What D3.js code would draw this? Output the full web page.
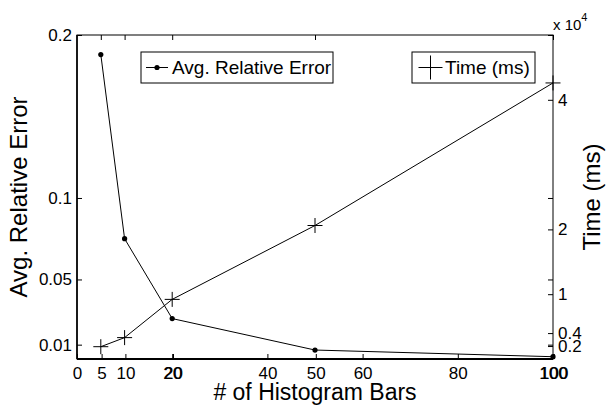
<!DOCTYPE html>
<html>
<head>
<meta charset="utf-8">
<script src="https://cdn.jsdelivr.net/npm/d3@7"></script>
<style>
  body { margin: 0; background: #fff; }
  text { font-family: "Liberation Sans", Arial, sans-serif; fill: #000; }
</style>
</head>
<body>
<div id="chart"></div>
<script>
// data
let bars = [5, 10, 20, 50, 100];
let relError = [0.188, 0.075, 0.026, 0.0067, 0.0026];
let timeMs = [1900, 3300, 9200, 20600, 42600];

// tick values
let xTicksMain = [0, 20, 40, 60, 80, 100];
let xTicksData = [5, 10, 20, 50, 100];
let leftTicks = [0.01, 0.05, 0.1, 0.2];
let rightTicks = [2000, 4000, 10000, 20000, 40000];

let width = 608, height = 405;
let pLeft = 77, pRight = 553, pTop = 35, pBottom = 359;

let svg = d3.select("#chart").append("svg")
  .attr("width", width)
  .attr("height", height);

let x = d3.scaleLinear().domain([0, 100]).range([pLeft, pRight]);
let yL = d3.scaleLinear().domain([0.0012, 0.2]).range([pBottom, pTop]);
let yR = d3.scaleLinear().domain([0, 50000]).range([pBottom, pTop]);

let tickLen = 5;
let tickFont = "17px";

// bottom axis: two overlapped sets of labels like plotyy
function bottomAxis(ticks, dx) {
  let g = svg.append("g").attr("transform", "translate(" + dx + "," + pBottom + ")");
  g.call(d3.axisBottom(x).tickValues(ticks).tickSizeInner(-tickLen).tickSizeOuter(0).tickPadding(7.5).tickFormat(d3.format("d")));
  g.select(".domain").remove();
  g.selectAll("text").style("font-size", tickFont).attr("fill", "#000");
  g.selectAll("line").attr("stroke", "#000");
}
bottomAxis(xTicksMain, 0);
bottomAxis(xTicksData, 0.8);

// top mirrored ticks
let gTop = svg.append("g").attr("transform", "translate(0," + pTop + ")");
gTop.call(d3.axisTop(x).tickValues(xTicksData).tickSizeInner(-tickLen).tickSizeOuter(0).tickFormat(""));
gTop.select(".domain").remove();

// left axis
let gL = svg.append("g").attr("transform", "translate(" + pLeft + ",0)");
gL.call(d3.axisLeft(yL).tickValues(leftTicks).tickSizeInner(-tickLen).tickSizeOuter(0).tickPadding(5).tickFormat(d => String(d)));
gL.select(".domain").remove();
gL.selectAll("text").style("font-size", tickFont).attr("fill", "#000");

// left ticks mirrored on right side
let gLm = svg.append("g").attr("transform", "translate(" + pRight + ",0)");
gLm.call(d3.axisRight(yL).tickValues(leftTicks).tickSizeInner(-tickLen).tickSizeOuter(0).tickFormat(""));
gLm.select(".domain").remove();

// right axis
let gR = svg.append("g").attr("transform", "translate(" + pRight + ",0)");
gR.call(d3.axisRight(yR).tickValues(rightTicks).tickSizeInner(-tickLen).tickSizeOuter(0).tickPadding(5).tickFormat(d => String(d / 10000)));
gR.select(".domain").remove();
gR.selectAll("text").style("font-size", tickFont).attr("fill", "#000");

// box
svg.append("rect")
  .attr("x", pLeft).attr("y", pTop)
  .attr("width", pRight - pLeft).attr("height", pBottom - pTop)
  .attr("fill", "none").attr("stroke", "#000").attr("stroke-width", 1);
svg.append("line").attr("x1", pLeft).attr("x2", pRight).attr("y1", pBottom).attr("y2", pBottom)
  .attr("stroke", "#000").attr("stroke-width", 2);
svg.append("line").attr("x1", pLeft).attr("x2", pLeft).attr("y1", pTop).attr("y2", pBottom)
  .attr("stroke", "#000").attr("stroke-width", 1.6);

// exponent label
let expo = svg.append("text").attr("x", 553).attr("y", 30).style("font-size", "15px");
expo.append("tspan").text("x 10");
expo.append("tspan").attr("dy", -9).style("font-size", "11px").text("4");

// error line
let errLine = d3.line().x((d, i) => x(bars[i])).y(d => yL(d));
svg.append("path").datum(relError)
  .attr("d", errLine).attr("fill", "none").attr("stroke", "#000").attr("stroke-width", 1);
svg.selectAll(".dot").data(relError).enter().append("circle")
  .attr("cx", (d, i) => x(bars[i])).attr("cy", d => yL(d)).attr("r", 2.6).attr("fill", "#000");

// time line
let timeLine = d3.line().x((d, i) => x(bars[i])).y(d => yR(d));
svg.append("path").datum(timeMs)
  .attr("d", timeLine).attr("fill", "none").attr("stroke", "#000").attr("stroke-width", 1);
function plusPath(cx, cy, s) {
  return "M" + (cx - s) + "," + cy + "H" + (cx + s) + "M" + cx + "," + (cy - s) + "V" + (cy + s);
}
svg.selectAll(".plus").data(timeMs).enter().append("path")
  .attr("d", (d, i) => plusPath(x(bars[i]), yR(d), 7.5))
  .attr("stroke", "#000").attr("stroke-width", 1).attr("fill", "none");

// axis titles
svg.append("text")
  .attr("transform", "translate(27," + (pTop + pBottom) / 2 + ") rotate(-90)")
  .attr("text-anchor", "middle").style("font-size", "24px")
  .text("Avg. Relative Error");
svg.append("text")
  .attr("transform", "translate(600," + (pTop + pBottom) / 2 + ") rotate(-90)")
  .attr("text-anchor", "middle").style("font-size", "24px")
  .text("Time (ms)");
svg.append("text")
  .attr("x", (pLeft + pRight) / 2).attr("y", 400)
  .attr("text-anchor", "middle").style("font-size", "23px")
  .text("# of Histogram Bars");

// legends
let lg1 = svg.append("g");
lg1.append("rect").attr("x", 141).attr("y", 52).attr("width", 192).attr("height", 31)
  .attr("fill", "#fff").attr("stroke", "#000");
lg1.append("line").attr("x1", 146).attr("x2", 168).attr("y1", 67.5).attr("y2", 67.5).attr("stroke", "#000");
lg1.append("circle").attr("cx", 157).attr("cy", 67.5).attr("r", 2.6).attr("fill", "#000");
lg1.append("text").attr("x", 172).attr("y", 74).style("font-size", "19px").text("Avg. Relative Error");

let lg2 = svg.append("g");
lg2.append("rect").attr("x", 412).attr("y", 52).attr("width", 123).attr("height", 31)
  .attr("fill", "#fff").attr("stroke", "#000");
lg2.append("path").attr("d", plusPath(430.5, 67.5, 12)).attr("stroke", "#000").attr("fill", "none");
lg2.append("text").attr("x", 445).attr("y", 74).style("font-size", "19px").text("Time (ms)");
</script>
</body>
</html>
